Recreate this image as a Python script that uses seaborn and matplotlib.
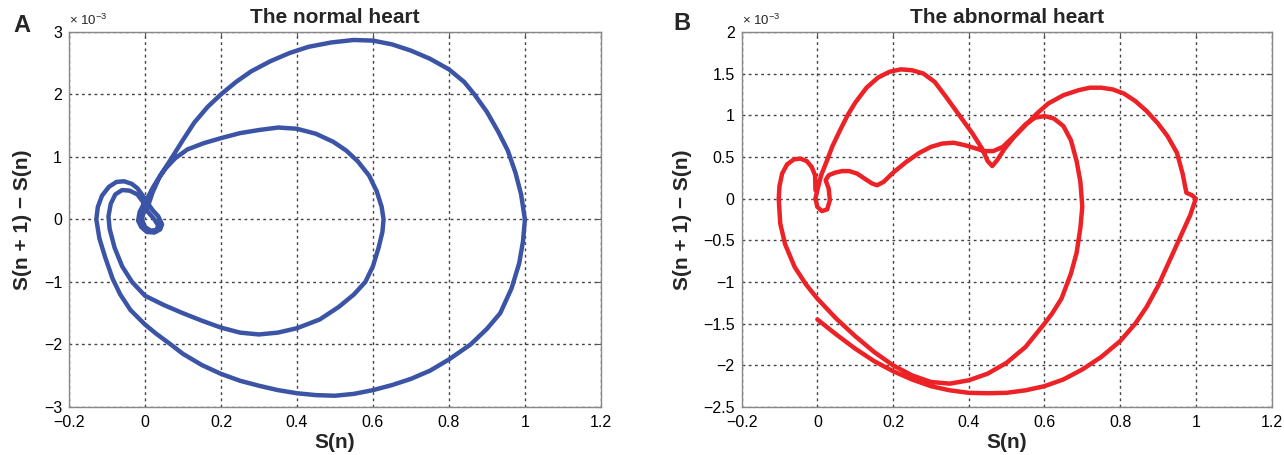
import seaborn as sns
import matplotlib.pyplot as plt
from matplotlib.ticker import FuncFormatter

# phase trajectories, y values in units of 1e-3
normal_x = [0.01, 0.02, 0.04, 0.068, 0.1, 0.13, 0.165, 0.2, 0.24, 0.28, 0.33, 0.38, 0.43, 0.49, 0.549,
            0.6, 0.65, 0.7, 0.75, 0.8, 0.84, 0.867, 0.9, 0.93, 0.955, 0.975, 0.99, 1.0, 0.995, 0.985,
            0.965, 0.935, 0.9, 0.857, 0.8, 0.75, 0.7, 0.65, 0.6, 0.55, 0.5, 0.45, 0.4, 0.35, 0.3,
            0.25, 0.2, 0.15, 0.1, 0.068, 0.03, 0.0, -0.038, -0.065, -0.085, -0.105, -0.12, -0.128,
            -0.124, -0.113, -0.095, -0.075, -0.055, -0.035, -0.02, -0.008, 0.005, 0.02, 0.035, 0.045,
            0.04, 0.025, 0.005, -0.01, -0.018, -0.014, -0.003, 0.01, 0.02, 0.035, 0.055, 0.08, 0.112,
            0.155, 0.2, 0.25, 0.3, 0.351, 0.4, 0.45, 0.496, 0.53, 0.56, 0.59, 0.61, 0.623, 0.628,
            0.625, 0.615, 0.6, 0.58, 0.55, 0.51, 0.46, 0.4, 0.35, 0.3, 0.25, 0.2, 0.15, 0.1, 0.05,
            0.0, -0.034, -0.06, -0.08, -0.093, -0.096, -0.09, -0.078, -0.06, -0.04, -0.02, -0.005,
            0.008, 0.025, 0.035, 0.03, 0.015, 0.0, -0.008, -0.002, 0.01]
normal_y = [0.25, 0.43, 0.7, 0.96, 1.27, 1.55, 1.8, 2.0, 2.2, 2.37, 2.53, 2.66, 2.76, 2.83, 2.87,
            2.86, 2.8, 2.7, 2.57, 2.4, 2.2, 2.0, 1.72, 1.4, 1.1, 0.75, 0.4, 0.0, -0.35, -0.7,
            -1.1, -1.5, -1.75, -2.0, -2.24, -2.42, -2.55, -2.65, -2.73, -2.79, -2.82, -2.81, -2.78, -2.73, -2.66,
            -2.58, -2.47, -2.33, -2.15, -2.0, -1.83, -1.68, -1.45, -1.2, -0.95, -0.6, -0.3, 0.0,
            0.2, 0.38, 0.52, 0.6, 0.61, 0.57, 0.5, 0.4, 0.28, 0.15, 0.05, -0.08,
            -0.16, -0.21, -0.2, -0.12, -0.02, 0.12, 0.25, 0.38, 0.5, 0.65, 0.82, 0.98, 1.12,
            1.22, 1.3, 1.38, 1.43, 1.47, 1.45, 1.37, 1.24, 1.1, 0.93, 0.7, 0.45, 0.2, 0.0,
            -0.2, -0.45, -0.75, -1.0, -1.2, -1.4, -1.6, -1.74, -1.81, -1.84, -1.81, -1.73, -1.62, -1.5, -1.37,
            -1.22, -1.0, -0.75, -0.45, -0.15, 0.05, 0.25, 0.4, 0.47, 0.46, 0.4, 0.28,
            0.12, 0.0, -0.1, -0.17, -0.18, -0.12, 0.0, 0.15, 0.25]

abnormal_x = [0.0, 0.05, 0.1, 0.15, 0.2, 0.25, 0.3, 0.35, 0.4, 0.45, 0.5, 0.55, 0.6, 0.65, 0.7, 0.75,
              0.8, 0.84, 0.87, 0.9, 0.93, 0.96, 0.985, 1.0, 0.99, 0.975, 0.965, 0.95, 0.925, 0.9, 0.87,
              0.84, 0.81, 0.78, 0.75, 0.72, 0.69, 0.65, 0.61, 0.58, 0.55, 0.52, 0.495, 0.475, 0.462,
              0.45, 0.435, 0.41, 0.375, 0.34, 0.31, 0.28, 0.25, 0.22, 0.19, 0.16, 0.13, 0.1, 0.08,
              0.06, 0.04, 0.025, 0.01, 0.0, -0.005, 0.0, 0.012, 0.026, 0.033, 0.03, 0.022, 0.03,
              0.046, 0.065, 0.084, 0.105, 0.128, 0.145, 0.158, 0.175, 0.2, 0.235, 0.27, 0.3, 0.33,
              0.36, 0.39, 0.42, 0.44, 0.465, 0.49, 0.52, 0.55, 0.575, 0.6, 0.625, 0.65, 0.67, 0.685,
              0.695, 0.7, 0.695, 0.685, 0.67, 0.645, 0.62, 0.6, 0.55, 0.5, 0.45, 0.4, 0.35, 0.3,
              0.25, 0.2, 0.15, 0.1, 0.05, 0.0, -0.03, -0.06, -0.085, -0.098, -0.102, -0.1, -0.093,
              -0.08, -0.062, -0.045, -0.028, -0.015, -0.006, -0.005]
abnormal_y = [-1.45, -1.63, -1.8, -1.95, -2.07, -2.17, -2.25, -2.3, -2.33, -2.335, -2.33, -2.3, -2.25,
              -2.17, -2.05, -1.9, -1.71, -1.5, -1.3, -1.05, -0.75, -0.45, -0.2, 0.0, 0.04, 0.07, 0.3,
              0.55, 0.75, 0.9, 1.05, 1.17, 1.26, 1.31, 1.33, 1.33, 1.3, 1.24, 1.14, 1.02, 0.88, 0.74,
              0.6, 0.46, 0.39, 0.45, 0.6, 0.78, 1.0, 1.22, 1.4, 1.5, 1.54, 1.55, 1.52, 1.45, 1.33,
              1.15, 1.0, 0.82, 0.63, 0.45, 0.28, 0.1, 0.0, -0.1, -0.15, -0.13, -0.02, 0.12, 0.22,
              0.28, 0.31, 0.33, 0.33, 0.3, 0.23, 0.18, 0.16, 0.2, 0.31, 0.44, 0.55, 0.62, 0.66,
              0.67, 0.64, 0.6, 0.57, 0.57, 0.62, 0.75, 0.89, 0.97, 0.99, 0.96, 0.87, 0.7, 0.45,
              0.2, -0.1, -0.35, -0.65, -0.9, -1.2, -1.38, -1.5, -1.78, -1.97, -2.1, -2.18, -2.22, -2.2,
              -2.12, -2.0, -1.84, -1.65, -1.44, -1.2, -1.03, -0.82, -0.55, -0.3, 0.0, 0.15, 0.3,
              0.41, 0.47, 0.48, 0.45, 0.38, 0.28, 0.1]

x_ticks = [-0.2, 0, 0.2, 0.4, 0.6, 0.8, 1, 1.2]
normal_yticks = [-3, -2, -1, 0, 1, 2, 3]
abnormal_yticks = [-2.5, -2, -1.5, -1, -0.5, 0, 0.5, 1, 1.5, 2]

sns.set_style("white")
plt.rcParams['font.family'] = ['Liberation Sans', 'DejaVu Sans']


def fmt(v, pos):
    return ('%g' % v).replace('-', '\u2212')


fig = plt.figure(figsize=(12.84, 4.55), dpi=100)
ax1 = fig.add_axes([0.0537, 0.1055, 0.4143, 0.8245])
ax2 = fig.add_axes([0.5776, 0.1055, 0.4127, 0.8245])

panels = [
    (ax1, normal_x, normal_y, normal_yticks, '#3c54a6', 'The normal heart', 'A', -0.07),
    (ax2, abnormal_x, abnormal_y, abnormal_yticks, '#ec2227', 'The abnormal heart', 'B', -0.094),
]

for ax, xs, ys, yt, col, title, letter, ylx in panels:
    sns.lineplot(x=xs, y=ys, sort=False, estimator=None, ax=ax, color=col, linewidth=3.2,
                 solid_joinstyle='round', solid_capstyle='round')
    ax.set_xlim(-0.2, 1.2)
    ax.set_ylim(yt[0], yt[-1])
    ax.set_xticks(x_ticks)
    ax.set_yticks(yt)
    ax.xaxis.set_major_formatter(FuncFormatter(fmt))
    ax.yaxis.set_major_formatter(FuncFormatter(fmt))
    ax.tick_params(direction='in', length=4, width=0.8, labelsize=11.5, top=True, right=True,
                   colors='#555555', labelcolor='black')
    ax.tick_params(axis='x', pad=6)
    ax.tick_params(axis='y', pad=5)
    ax.grid(True, color='#444444', linestyle=(0, (2, 2.5)), linewidth=1.0)
    for s in ax.spines.values():
        s.set_color('#888888')
        s.set_linewidth(1.0)
    ax.set_xlabel('S(n)', fontsize=15, fontweight='bold')
    ax.set_ylabel('S(n + 1) \u2212 S(n)', fontsize=15, fontweight='bold')
    ax.xaxis.set_label_coords(0.5, -0.068)
    ax.yaxis.set_label_coords(ylx, 0.5)
    ax.text(0.5, 1.037, title, transform=ax.transAxes, ha='center', va='center',
            fontsize=15, fontweight='bold')
    ax.text(0.0, 1.03, '\u00d7 10$^{\\mathregular{\u22123}}$', transform=ax.transAxes,
            ha='left', va='center', fontsize=9.5)

fig.text(21.5 / 1284, 1 - 25 / 455, 'A', ha='center', va='center', fontsize=17, fontweight='bold')
fig.text(681.5 / 1284, 1 - 24 / 455, 'B', ha='center', va='center', fontsize=17, fontweight='bold')

fig.savefig('out.png', dpi=100)
